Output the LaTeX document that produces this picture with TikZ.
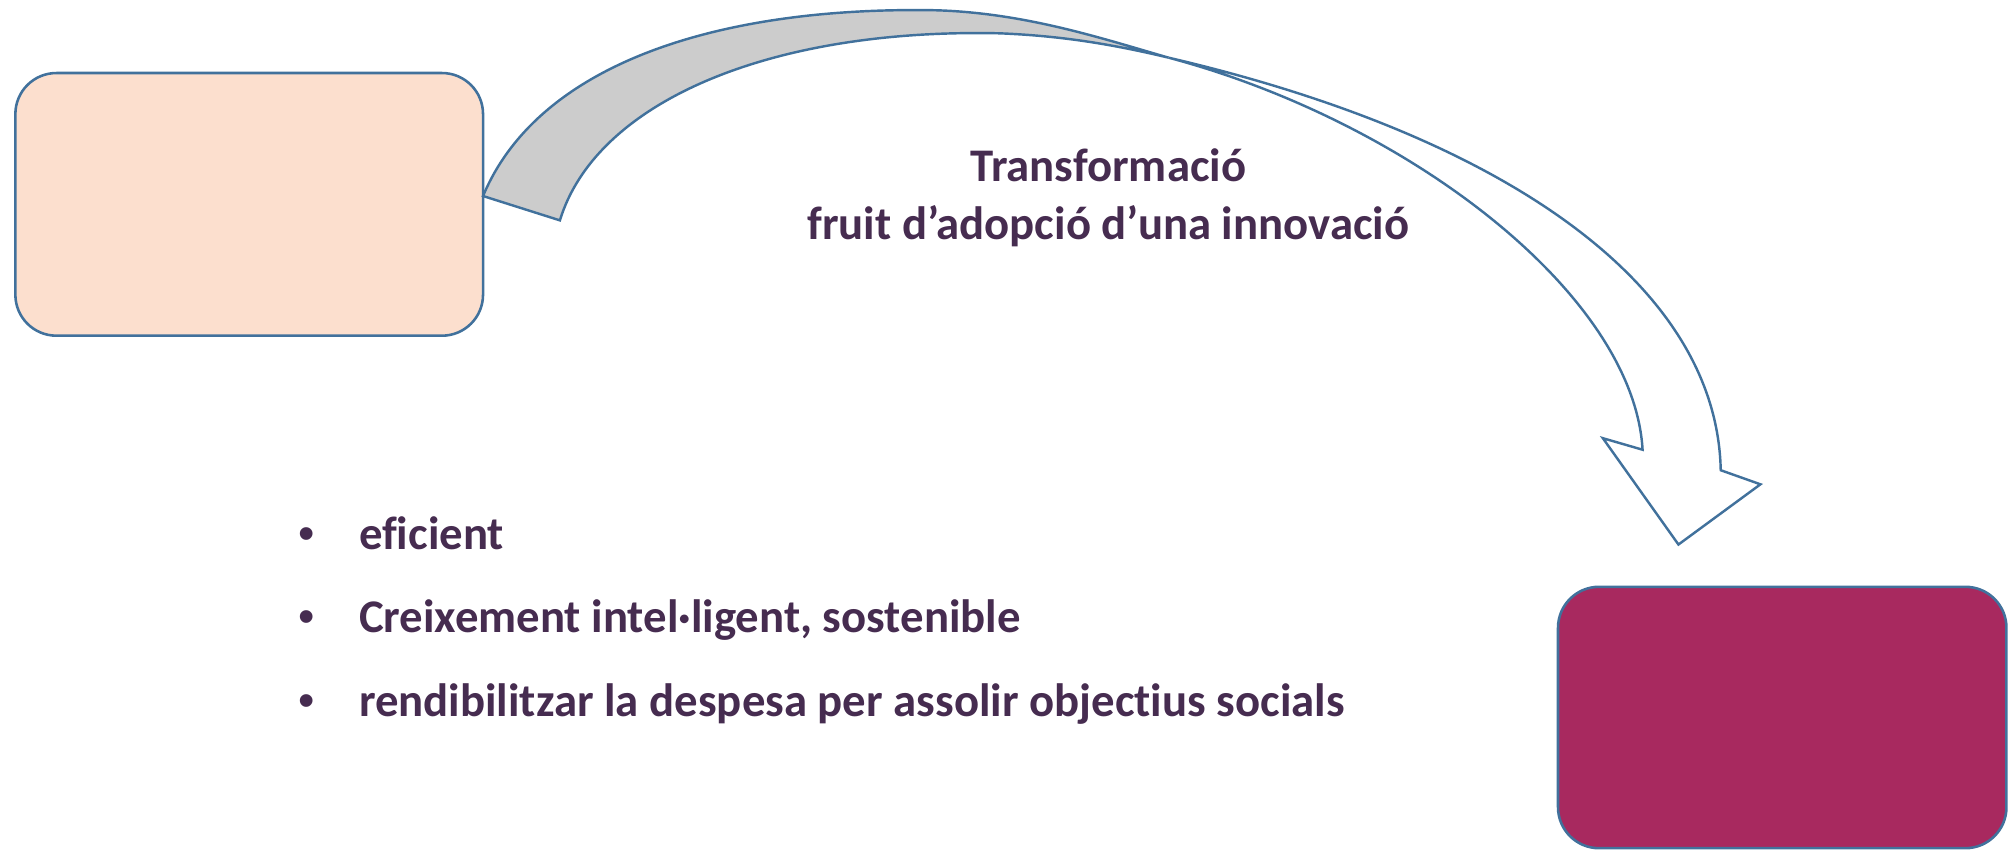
\documentclass[tikz,border=0pt]{standalone}
\usepackage{fontspec}
\setmainfont{Carlito}[Ligatures=NoCommon]
\newfontfamily\dotfont{Liberation Sans}
\definecolor{edgeblue}{RGB}{65,113,156}
\definecolor{peach}{RGB}{252,223,206}
\definecolor{plum}{RGB}{168,41,95}
\definecolor{ink}{RGB}{70,44,80}
\definecolor{shade}{RGB}{204,204,204}
\begin{document}
\begin{tikzpicture}[x=1pt,y=-1pt,
  box/.style={draw=edgeblue,line width=2pt,rounded corners=32pt,inner sep=0pt,outer sep=0pt},
  outline/.style={draw=edgeblue,line width=1.9pt,line join=miter},
  lbl/.style={text=ink,font=\fontsize{36.5}{44}\selectfont\bfseries,inner sep=0pt},
  dotlbl/.style={text=ink,font=\fontsize{36.5}{44}\selectfont\dotfont,inner sep=0pt}]
\useasboundingbox (0,0) rectangle (1568,663);
% boxes
\node[box,fill=peach,minimum width=365pt,minimum height=205pt,anchor=north west] (src) at (12,57) {};
\node[box,fill=plum,minimum width=350pt,minimum height=204pt,anchor=north west] (dst) at (1216,458) {};
% curved arrow
\coordinate (A) at (377,153);
\coordinate (B) at (437,172);
\coordinate (X) at (912,45);
\coordinate (E1) at (1282,351);
\coordinate (BL) at (1251,342);
\coordinate (T) at (1310,425);
\coordinate (BR) at (1374,378);
\coordinate (E2) at (1343,367);
\draw[outline,fill=shade] (A) .. controls (420,50) and (560,5) .. (730,8)
  .. controls (800,10) and (860,30) .. (X)
  .. controls (870,35) and (830,28) .. (780,26)
  .. controls (600,22) and (465,80) .. (B) -- cycle;
\draw[outline,fill=white] (X) .. controls (1100,95) and (1275,230) .. (E1)
  -- (BL) -- (T) -- (BR) -- (E2)
  .. controls (1340,220) and (1170,105) .. (X) -- cycle;
% caption
\node[lbl,anchor=base] (cap1) at (865,142) {Transformació};
\node[lbl,anchor=base] (cap2) at (865,187) {fruit d’adopció d’una innovació};
% bullets
\node[dotlbl,anchor=base] (d1) at (239,429) {•};
\node[lbl,anchor=base west] (t1) at (280,429) {eficient};
\node[dotlbl,anchor=base] (d2) at (239,494) {•};
\node[lbl,anchor=base west] (t2) at (280,494) {Creixement intel·ligent, sostenible};
\node[dotlbl,anchor=base] (d3) at (239,559) {•};
\node[lbl,anchor=base west] (t3) at (280,559) {rendibilitzar la despesa per assolir objectius socials};
\end{tikzpicture}
\end{document}
